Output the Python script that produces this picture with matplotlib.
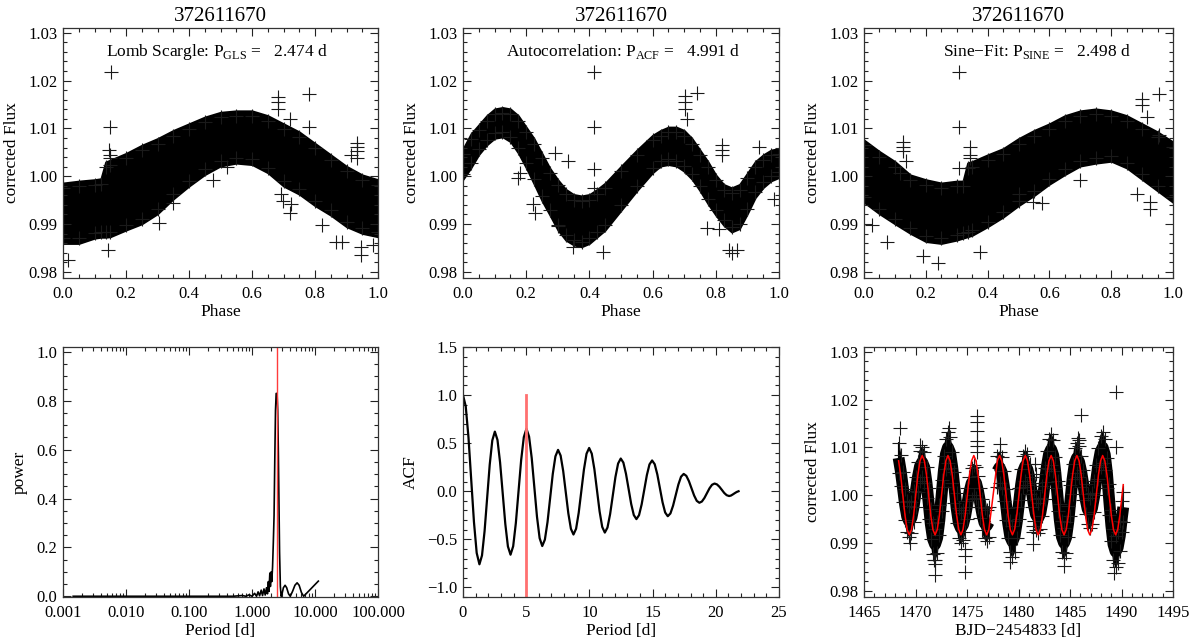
import numpy as np
import matplotlib
matplotlib.use("Agg")
import matplotlib.pyplot as plt
from matplotlib.ticker import MultipleLocator, FuncFormatter, LogLocator, NullFormatter

plt.rcParams['font.family'] = ['Liberation Serif', 'DejaVu Serif']
plt.rcParams['mathtext.fontset'] = 'custom'
plt.rcParams['mathtext.rm'] = 'Liberation Serif'

# ---------------- data ----------------
star_id = "372611670"
p_gls, p_acf, p_sine = 2.474, 4.991, 2.498

# phase-folded band envelopes (Lomb-Scargle period)
gls_phase = [0.0, 0.05, 0.10, 0.12, 0.135, 0.15, 0.20, 0.25, 0.30, 0.35, 0.40, 0.45,
             0.50, 0.55, 0.60, 0.65, 0.70, 0.75, 0.80, 0.85, 0.90, 0.95, 1.00]
gls_upper = [0.9986, 0.9990, 0.9993, 0.9995, 1.0030, 1.0034, 1.0048, 1.0065, 1.0079, 1.0096,
             1.0110, 1.0124, 1.0134, 1.0137, 1.0137, 1.0127, 1.0110, 1.0093, 1.0069, 1.0045,
             1.0021, 1.0003, 0.9993]
gls_lower = [0.9859, 0.9859, 0.9870, 0.9872, 0.9872, 0.9873, 0.9887, 0.9900, 0.9921, 0.9952,
             0.9979, 1.0003, 1.0021, 1.0027, 1.0024, 1.0007, 0.9979, 0.9962, 0.9938, 0.9918,
             0.9894, 0.9880, 0.9873]
gls_out_phase = [0.153, 0.148, 0.145, 0.148, 0.150, 0.143, 0.304, 0.349, 0.522, 0.476,
                 0.683, 0.683, 0.683, 0.781, 0.781, 0.720, 0.693, 0.698, 0.725, 0.720,
                 0.823, 0.933, 0.933, 0.933, 0.933, 0.915, 0.868, 0.886, 0.947, 0.947,
                 0.984, 0.016]
gls_out_flux = [1.0218, 1.0103, 1.0055, 1.0045, 1.0038, 0.9845, 0.9902, 0.9943, 1.0019, 0.9993,
                1.0165, 1.0155, 1.0141, 1.0172, 1.0103, 1.0120, 0.9962, 0.9948, 0.9942, 0.9924,
                0.9897, 1.0069, 1.0062, 1.0052, 1.0038, 1.0045, 0.9863, 0.9863, 0.9852, 0.9835,
                0.9856, 0.9825]

# phase-folded band envelopes (ACF period)
acf_phase = [0.0, 0.025, 0.05, 0.075, 0.1, 0.125, 0.15, 0.175, 0.2, 0.225, 0.25, 0.275, 0.3,
             0.325, 0.35, 0.375, 0.4, 0.425, 0.45, 0.5, 0.55, 0.6, 0.625, 0.65, 0.675, 0.7,
             0.725, 0.75, 0.775, 0.8, 0.825, 0.85, 0.875, 0.9, 0.925, 0.95, 0.975, 1.0]
acf_upper = [1.0058, 1.0089, 1.0108, 1.0127, 1.0141, 1.0144, 1.0141, 1.0127, 1.0103, 1.0079,
             1.0048, 1.0017, 0.9993, 0.9973, 0.9962, 0.9959, 0.9962, 0.9973, 0.9986, 1.0021,
             1.0055, 1.0086, 1.0096, 1.0103, 1.0103, 1.0096, 1.0079, 1.0055, 1.0031, 1.0003,
             0.9983, 0.9976, 0.9983, 1.0007, 1.0031, 1.0045, 1.0055, 1.0058]
acf_lower = [0.9993, 1.0017, 1.0045, 1.0065, 1.0079, 1.0082, 1.0072, 1.0048, 1.0017, 0.9983,
             0.9948, 0.9918, 0.9887, 0.9866, 0.9856, 0.9852, 0.9859, 0.9873, 0.9887, 0.9928,
             0.9969, 1.0007, 1.0021, 1.0024, 1.0021, 1.0010, 0.9993, 0.9969, 0.9942, 0.9918,
             0.9897, 0.9883, 0.9890, 0.9921, 0.9955, 0.9976, 0.9990, 0.9997]
acf_out_phase = [0.413, 0.413, 0.413, 0.413, 0.302, 0.333, 0.222, 0.227, 0.180, 0.175,
                 0.444, 0.349, 0.704, 0.704, 0.704, 0.739, 0.709, 0.820, 0.820, 0.820,
                 0.937, 0.772, 0.984, 0.852, 0.841, 0.868, 0.810, 0.290]
acf_out_flux = [1.0218, 1.0103, 1.0016, 0.9976, 0.9896, 1.0031, 0.9942, 0.9924, 1.0007, 0.9997,
                0.9842, 0.9851, 1.0168, 1.0155, 1.0141, 1.0173, 1.0120, 1.0065, 1.0055, 1.0045,
                1.0062, 0.9892, 0.9952, 0.9840, 0.9845, 0.9845, 0.9890, 1.0048]

# phase-folded band envelopes (sine-fit period)
sin_phase = [0.0, 0.05, 0.10, 0.15, 0.20, 0.25, 0.30, 0.32, 0.335, 0.35, 0.40, 0.45, 0.50,
             0.55, 0.60, 0.65, 0.70, 0.75, 0.80, 0.85, 0.90, 0.95, 1.00]
sin_upper = [1.0076, 1.0052, 1.0031, 1.0003, 0.9993, 0.9986, 0.9990, 0.9990, 1.0028, 1.0031,
             1.0045, 1.0058, 1.0079, 1.0096, 1.0110, 1.0127, 1.0137, 1.0141, 1.0137, 1.0127,
             1.0110, 1.0093, 1.0072]
sin_lower = [0.9945, 0.9921, 0.9900, 0.9880, 0.9863, 0.9859, 0.9866, 0.9870, 0.9873, 0.9876,
             0.9894, 0.9914, 0.9938, 0.9959, 0.9983, 1.0003, 1.0021, 1.0027, 1.0031, 1.0017,
             0.9993, 0.9969, 0.9945]
sin_out_phase = [0.309, 0.309, 0.309, 0.127, 0.127, 0.127, 0.137, 0.117, 0.343, 0.343,
                 0.343, 0.076, 0.025, 0.375, 0.240, 0.192, 0.899, 0.899, 0.956, 0.915,
                 0.956, 0.926, 0.926, 0.882, 0.699, 0.575, 0.548, 0.500]
sin_out_flux = [1.0218, 1.0103, 1.0017, 1.0072, 1.0062, 1.0052, 1.0031, 1.0007, 1.0062, 1.0045,
                1.0038, 0.9863, 0.9897, 0.9842, 0.9818, 0.9832, 1.0161, 1.0148, 1.0172, 1.0124,
                1.0086, 0.9945, 0.9931, 0.9962, 0.9993, 0.9943, 0.9947, 0.9962]

# Lomb-Scargle periodogram
gls_period = [0.00145, 0.5, 0.7, 0.8, 0.9, 1.0, 1.1, 1.18, 1.25, 1.32, 1.40, 1.47, 1.55, 1.62,
              1.70, 1.76, 1.82, 1.86, 1.92, 1.96, 2.02, 2.06, 2.12, 2.18, 2.24, 2.30, 2.36,
              2.42, 2.50, 2.56, 2.62, 2.68, 2.74, 2.82, 2.90, 3.00, 3.15, 3.35, 3.55, 3.80,
              4.05, 4.40, 4.80, 5.20, 5.60, 6.10, 6.60, 8.00, 9.50, 11.30]
gls_power = [0.0, 0.0, 0.003, 0.0, 0.006, 0.0, 0.012, 0.0, 0.018, 0.002, 0.025, 0.003, 0.030,
             0.005, 0.035, 0.010, 0.060, 0.020, 0.095, 0.040, 0.100, 0.060, 0.120, 0.220,
             0.330, 0.560, 0.760, 0.830, 0.830, 0.760, 0.590, 0.380, 0.180, 0.040, 0.0,
             0.010, 0.035, 0.045, 0.035, 0.010, 0.0, 0.020, 0.045, 0.055, 0.045, 0.015, 0.0,
             0.022, 0.042, 0.062]

# autocorrelation function
acf_lag = [0.0, 0.217, 0.433, 0.65, 0.867, 1.083, 1.30,
           1.503, 1.707, 1.91, 2.113, 2.317, 2.52,
           2.727, 2.933, 3.14, 3.347, 3.553, 3.76,
           3.97, 4.18, 4.39, 4.60, 4.81, 5.02,
           5.228, 5.437, 5.645, 5.853, 6.062, 6.27,
           6.478, 6.687, 6.895, 7.103, 7.312, 7.52,
           7.723, 7.927, 8.13, 8.333, 8.537, 8.74,
           8.947, 9.153, 9.36, 9.567, 9.773, 9.98,
           10.187, 10.393, 10.60, 10.807, 11.013, 11.22,
           11.43, 11.64, 11.85, 12.06, 12.27, 12.48,
           12.687, 12.893, 13.10, 13.307, 13.513, 13.72,
           13.927, 14.133, 14.34, 14.547, 14.753, 14.96,
           15.167, 15.373, 15.58, 15.787, 15.993, 16.20,
           16.41, 16.62, 16.83, 17.04, 17.25, 17.46,
           17.667, 17.873, 18.08, 18.287, 18.493, 18.70,
           18.9, 19.1, 19.3, 19.5, 19.7, 19.9,
           20.092, 20.283, 20.475, 20.667, 20.858, 21.05,
           21.2, 21.35, 21.5, 21.65, 21.8]
acf_val = [1.0, 0.882, 0.56, 0.12, -0.32, -0.642, -0.76,
           -0.668, -0.415, -0.07, 0.275, 0.528, 0.62,
           0.534, 0.30, -0.02, -0.34, -0.574, -0.66,
           -0.572, -0.332, -0.005, 0.323, 0.562, 0.65,
           0.568, 0.345, 0.04, -0.265, -0.488, -0.57,
           -0.503, -0.32, -0.07, 0.18, 0.363, 0.43,
           0.371, 0.21, -0.01, -0.23, -0.391, -0.45,
           -0.39, -0.225, 0.0, 0.225, 0.39, 0.45,
           0.391, 0.23, 0.01, -0.21, -0.371, -0.43,
           -0.378, -0.237, -0.045, 0.148, 0.288, 0.34,
           0.298, 0.182, 0.025, -0.133, -0.248, -0.29,
           -0.249, -0.137, 0.015, 0.168, 0.279, 0.32,
           0.281, 0.175, 0.03, -0.115, -0.221, -0.26,
           -0.231, -0.15, -0.04, 0.07, 0.151, 0.18,
           0.16, 0.105, 0.03, -0.045, -0.10, -0.12,
           -0.107, -0.07, -0.02, 0.03, 0.067, 0.08,
           0.071, 0.047, 0.015, -0.018, -0.041, -0.05,
           -0.045, -0.033, -0.02, -0.008, 0.0]

# light curve: band centre and sine fit on a time grid (nan = data gap)
nan = float('nan')
lc_time = [1468.36, 1468.56, 1468.77, 1468.98, 1469.19, 1469.40, 1469.61, 1469.82, 1470.02, 1470.23, 1470.44,
           1470.65, 1470.86, 1471.07, 1471.28, 1471.48, 1471.69, 1471.90, 1472.11, 1472.32, 1472.53, 1472.74, 1472.95,
           1473.15, 1473.36, 1473.57, 1473.78, 1473.99, 1474.20, 1474.41, 1474.61, 1474.82, 1475.03, 1475.24, 1475.45,
           1475.66, 1475.87, 1476.08, 1476.28, 1476.49, 1476.70, 1476.91, 1477.12, 1477.33, 1477.54, 1477.74, 1477.95,
           1478.16, 1478.37, 1478.58, 1478.79, 1478.99, 1479.20, 1479.41, 1479.62, 1479.83, 1480.04, 1480.25, 1480.45,
           1480.66, 1480.87, 1481.08, 1481.29, 1481.50, 1481.70, 1481.91, 1482.12, 1482.33, 1482.54, 1482.75, 1482.96,
           1483.17, 1483.38, 1483.58, 1483.79, 1484.00, 1484.21, 1484.42, 1484.63, 1484.84, 1485.04, 1485.25, 1485.46,
           1485.67, 1485.88, 1486.09, 1486.30, 1486.51, 1486.71, 1486.92, 1487.13, 1487.34, 1487.55, 1487.76, 1487.97,
           1488.17, 1488.38, 1488.59, 1488.80, 1489.01, 1489.22, 1489.43, 1489.63, 1489.84, 1490.05, 1490.17]
lc_center = [1.0078, 1.0052, 1.0017, 0.9981, 0.9955, 0.9945, 0.9953, 0.9976, 1.0007, 1.0038, 1.0061,
             1.0069, 1.0058, 1.0026, 0.9983, 0.9940, 0.9909, 0.9897, 0.9911, 0.9948, 0.9999, 1.0049, 1.0086,
             1.0100, 1.0089, 1.0058, 1.0016, 0.9973, 0.9942, 0.9931, 0.9938, 0.9956, 0.9982, 1.0007, 1.0025,
             1.0032, 1.0026, 1.0008, 0.9984, 0.9960, 0.9942, 0.9936, 0.9944, nan, nan, nan, 1.0050,
             1.0058, 1.0048, 1.0019, 0.9981, 0.9942, 0.9913, 0.9903, 0.9914, 0.9943, 0.9982, 1.0022, 1.0050,
             1.0061, 1.0054, 1.0034, 1.0007, 0.9979, 0.9959, 0.9952, 0.9962, 0.9988, 1.0024, 1.0060, 1.0086,
             1.0096, 1.0083, 1.0047, 0.9998, 0.9949, 0.9913, 0.9900, 0.9912, 0.9945, 0.9989, 1.0034, 1.0066,
             1.0078, 1.0070, 1.0049, 1.0021, 0.9992, 0.9971, 0.9963, 0.9972, 0.9997, 1.0032, 1.0066, 1.0091,
             1.0100, 1.0085, 1.0046, 0.9991, 0.9937, 0.9897, 0.9882, 0.9890, 0.9915, 0.9955, 0.9975]
lc_scatter = 0.0032
lc_fit = [1.0072, 1.0042, 1.0000, 0.9958, 0.9928, 0.9917, 0.9928, 0.9958, 1.0000, 1.0042, 1.0072,
          1.0083, 1.0072, 1.0042, 1.0000, 0.9958, 0.9928, 0.9917, 0.9928, 0.9958, 1.0000, 1.0042, 1.0072,
          1.0083, 1.0072, 1.0042, 1.0000, 0.9958, 0.9928, 0.9917, 0.9928, 0.9958, 1.0000, 1.0042, 1.0072,
          1.0083, 1.0072, 1.0042, 1.0000, 0.9958, 0.9928, 0.9917, 0.9928, nan, nan, nan, 1.0072,
          1.0083, 1.0072, 1.0042, 1.0000, 0.9958, 0.9928, 0.9917, 0.9928, 0.9958, 1.0000, 1.0042, 1.0072,
          1.0083, 1.0072, 1.0042, 1.0000, 0.9958, 0.9928, 0.9917, 0.9928, 0.9958, 1.0000, 1.0042, 1.0072,
          1.0083, 1.0072, 1.0042, 1.0000, 0.9958, 0.9928, 0.9917, 0.9928, 0.9958, 1.0000, 1.0042, 1.0072,
          1.0083, 1.0072, 1.0042, 1.0000, 0.9958, 0.9928, 0.9917, 0.9928, 0.9958, 1.0000, 1.0042, 1.0072,
          1.0083, 1.0072, 1.0042, 1.0000, 0.9958, 0.9928, 0.9917, 0.9928, 0.9958, 1.0000, 1.0022]
lc_out_time = [1489.5, 1486.1, 1489.5, 1485.8, 1485.9, 1481.4, 1481.4, 1481.4, 1481.6, 1481.7,
               1481.5, 1484.4, 1489.3, 1479.2, 1476.0, 1476.0, 1476.0, 1476.0, 1476.0, 1476.0,
               1474.85, 1474.85, 1474.85, 1469.45, 1468.5, 1471.9, 1471.9, 1471.8, 1473.23,
               1470.48, 1478.23]
lc_out_flux = [1.0215, 1.0168, 1.0100, 1.0120, 1.0115, 0.9898, 0.9922, 0.9936, 1.0065, 1.0045,
               1.0025, 0.9851, 0.9838, 0.9860, 1.0166, 1.0154, 1.0134, 1.0114, 1.0103, 1.0090,
               0.9840, 0.9873, 0.9887, 0.9900, 1.0140, 0.9832, 0.9855, 0.9865, 1.0140, 1.0105,
               1.0107]

# ---------------- styling helpers ----------------
MS = 9.5
MEW = 0.8
TICK_FS = 12
LABEL_FS = 12.5
INK = '#1a1a1a'


def minus_fmt(fmt):
    def f(x, pos):
        s = fmt.format(x)
        if s.lstrip('-').strip('0.') == '':
            s = s.lstrip('-')
        return s.replace('-', '\u2212')
    return FuncFormatter(f)


def idl_axes(ax):
    ax.tick_params(which='both', direction='in', top=True, right=True,
                   labelsize=TICK_FS, width=0.8, colors='#222222', labelcolor='black')
    ax.tick_params(which='major', length=6)
    ax.tick_params(which='minor', length=3)
    ax.tick_params(axis='x', pad=6)
    ax.tick_params(axis='y', pad=4)
    for s in ax.spines.values():
        s.set_linewidth(0.9)
        s.set_color('#333333')


def flux_axes(ax):
    ax.set_ylim(0.9787, 1.031)
    ax.yaxis.set_major_locator(MultipleLocator(0.01))
    ax.yaxis.set_minor_locator(MultipleLocator(0.002))
    ax.yaxis.set_major_formatter(minus_fmt('{:.2f}'))
    ax.set_ylabel('corrected Flux', fontsize=LABEL_FS, labelpad=6)


def phase_panel(ax, ph, up, lo, oph, ofl):
    ph = np.asarray(ph); up = np.asarray(up); lo = np.asarray(lo)
    ax.fill_between(ph, lo, up, color='black', lw=1.2, edgecolor='black')
    inset = 0.0011
    ax.plot(ph, up - inset, ls='none', marker='+', ms=MS, mew=MEW, color=INK)
    ax.plot(ph, lo + inset, ls='none', marker='+', ms=MS, mew=MEW, color=INK)
    ax.plot(oph, ofl, ls='none', marker='+', ms=MS, mew=MEW, color=INK)
    ax.set_xlim(0, 1)
    ax.xaxis.set_major_locator(MultipleLocator(0.2))
    ax.xaxis.set_minor_locator(MultipleLocator(0.05))
    ax.xaxis.set_major_formatter(minus_fmt('{:.1f}'))
    flux_axes(ax)
    ax.set_xlabel('Phase', fontsize=LABEL_FS, labelpad=1)
    ax.set_title(star_id, fontsize=15, pad=5)
    idl_axes(ax)


fig = plt.figure(figsize=(12, 6.44), dpi=100)
W, H = 1200.0, 644.0


def add_ax(x0, x1, y0, y1):
    return fig.add_axes([x0 / W, 1 - y1 / H, (x1 - x0) / W, (y1 - y0) / H])


ax1 = add_ax(63, 378, 28, 278)
ax2 = add_ax(463, 779, 28, 278)
ax3 = add_ax(864, 1173, 28, 278)
ax4 = add_ax(63, 378, 347, 597)
ax5 = add_ax(463, 779, 347, 597)
ax6 = add_ax(864, 1173, 347, 597)

phase_panel(ax1, gls_phase, gls_upper, gls_lower, gls_out_phase, gls_out_flux)
ax1.text(0.137, 0.905, 'Lomb Scargle: P$_{\\mathregular{GLS}}$ =   %.3f d' % p_gls,
         transform=ax1.transAxes, fontsize=12.5, ha='left', va='center')
phase_panel(ax2, acf_phase, acf_upper, acf_lower, acf_out_phase, acf_out_flux)
ax2.text(0.137, 0.905, 'Autocorrelation: P$_{\\mathregular{ACF}}$ =   %.3f d' % p_acf,
         transform=ax2.transAxes, fontsize=12.5, ha='left', va='center')
phase_panel(ax3, sin_phase, sin_upper, sin_lower, sin_out_phase, sin_out_flux)
ax3.text(0.256, 0.905, 'Sine\u2212Fit: P$_{\\mathregular{SINE}}$ =   %.3f d' % p_sine,
         transform=ax3.transAxes, fontsize=12.5, ha='left', va='center')

# periodogram
ax4.plot(gls_period, gls_power, color='black', lw=1.2)
ax4.axvline(p_gls, color='#ff3b3b', lw=1.0)
ax4.set_xscale('log')
ax4.set_xlim(0.001, 100)
ax4.set_ylim(-0.003, 1.02)
ax4.xaxis.set_major_locator(LogLocator(base=10, numticks=10))
ax4.xaxis.set_minor_locator(LogLocator(base=10, subs=np.arange(2, 10), numticks=20))
ax4.xaxis.set_minor_formatter(NullFormatter())
ax4.xaxis.set_major_formatter(FuncFormatter(lambda x, p: '{:.3f}'.format(x)))
ax4.yaxis.set_major_locator(MultipleLocator(0.2))
ax4.yaxis.set_minor_locator(MultipleLocator(0.05))
ax4.yaxis.set_major_formatter(minus_fmt('{:.1f}'))
ax4.set_xlabel('Period [d]', fontsize=LABEL_FS, labelpad=1)
ax4.set_ylabel('power', fontsize=LABEL_FS, labelpad=6)
idl_axes(ax4)

# ACF
ax5.plot(acf_lag, acf_val, color='black', lw=1.6, solid_joinstyle='round')
ax5.plot([p_acf, p_acf], [-1.1, 1.0], color='#ff7070', lw=2.0)
ax5.set_xlim(0, 25)
ax5.set_ylim(-1.1, 1.5)
ax5.xaxis.set_major_locator(MultipleLocator(5))
ax5.xaxis.set_minor_locator(MultipleLocator(1))
ax5.xaxis.set_major_formatter(FuncFormatter(lambda x, p: '%d' % round(x)))
ax5.yaxis.set_major_locator(MultipleLocator(0.5))
ax5.yaxis.set_minor_locator(MultipleLocator(0.1))
ax5.yaxis.set_major_formatter(minus_fmt('{:.1f}'))
ax5.set_xlabel('Period [d]', fontsize=LABEL_FS, labelpad=1)
ax5.set_ylabel('ACF', fontsize=LABEL_FS, labelpad=6)
idl_axes(ax5)

# light curve
t = np.asarray(lc_time)
c = np.asarray(lc_center)
ax6.fill_between(t, c - lc_scatter, c + lc_scatter, color='black', lw=1.0, edgecolor='black')
ax6.plot(t, c, color='black', lw=8.5, solid_joinstyle='round', solid_capstyle='butt')
ax6.plot(t, c + lc_scatter, ls='none', marker='+', ms=MS, mew=MEW, color=INK)
ax6.plot(t, c - lc_scatter, ls='none', marker='+', ms=MS, mew=MEW, color=INK)
ax6.plot(lc_out_time, lc_out_flux, ls='none', marker='+', ms=MS, mew=MEW, color=INK)
fit = np.asarray(lc_fit)
ok = ~np.isnan(fit)
ax6.plot(t[ok], fit[ok], color='#ff0000', lw=1.1)
ax6.set_xlim(1465, 1495)
ax6.xaxis.set_major_locator(MultipleLocator(5))
ax6.xaxis.set_minor_locator(MultipleLocator(1))
ax6.xaxis.set_major_formatter(FuncFormatter(lambda x, p: '%d' % round(x)))
flux_axes(ax6)
ax6.set_xlabel('BJD\u22122454833 [d]', fontsize=LABEL_FS, labelpad=1)
idl_axes(ax6)

fig.savefig('out.png', dpi=100)
